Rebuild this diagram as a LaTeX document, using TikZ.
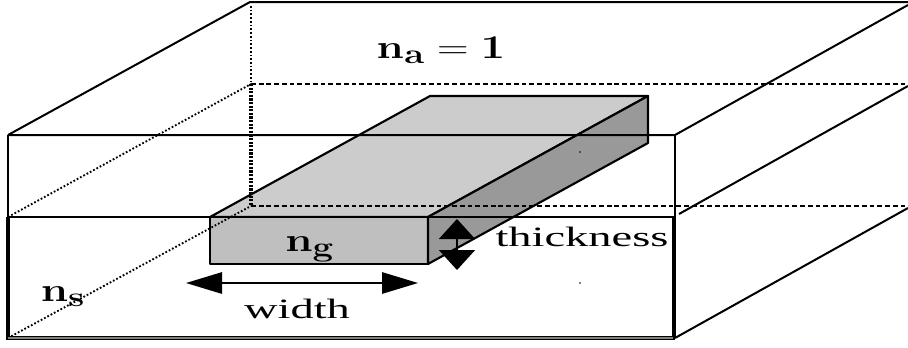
\documentclass[tikz,border=0pt]{standalone}
\usepackage[no-math]{fontspec}
\setmainfont{Liberation Serif}
\usepackage{amsmath}
\usetikzlibrary{arrows.meta}
\definecolor{topgray}{gray}{0.8}
\definecolor{frontgray}{gray}{0.75}
\definecolor{sidegray}{gray}{0.6}
\newcommand{\wordlabel}[1]{\scalebox{1.66}[1]{\fontsize{21}{25}\selectfont #1}}
\newcommand{\indexlabel}[1]{\scalebox{1.32}[1]{\fontsize{28}{33}\selectfont $\mathbf{#1}$}}

\begin{document}
\begin{tikzpicture}[
    x=0.75pt, y=-0.75pt,
    edge/.style={draw=black, line width=1.5pt},
    heavy/.style={draw=black, line width=3pt},
    hidden/.style={draw=black, line width=1.4pt, dash pattern=on 3.6pt off 2.2pt},
    dots/.style={draw=black, line width=1.4pt, dash pattern=on 1.3pt off 1.5pt},
    fatdots/.style={draw=black, line width=2.8pt, dash pattern=on 1.6pt off 1.1pt},
    block/.style={draw=black, line width=1.6pt, line join=round},
    bigarrow/.style={{Triangle[length=27pt,width=16pt]}-{Triangle[length=27pt,width=16pt]}, line width=1.4pt},
    tallarrow/.style={{Triangle[length=15pt,width=27pt]}-{Triangle[length=15pt,width=27pt]}, line width=1.4pt},
    label/.style={inner sep=0pt, text=black}
]
    \useasboundingbox (0, 0) rectangle (908, 347);

    % corners of the substrate and of the cover
    \coordinate (ftl) at (8, 135);
    \coordinate (fml) at (8, 217);
    \coordinate (fbl) at (8, 338);
    \coordinate (ftr) at (675, 135);
    \coordinate (fmr) at (675, 217);
    \coordinate (fbr) at (675, 338);
    \coordinate (btl) at (250, 2);
    \coordinate (btr) at (908, 2);
    \coordinate (btt) at (251, 6);
    \coordinate (bml) at (251, 84);
    \coordinate (bmr) at (908, 84);
    \coordinate (bbl) at (251, 206);
    \coordinate (bbr) at (908, 206);
    \coordinate (etr) at (908, 5);
    \coordinate (ems) at (679, 214);
    \coordinate (emr) at (908, 86);
    \coordinate (ebr) at (908, 208);

    % corners of the guide
    \coordinate (gfl) at (210, 217);
    \coordinate (gfr) at (428, 217);
    \coordinate (gbl) at (210, 264);
    \coordinate (gbr) at (428, 264);
    \coordinate (gtl) at (430, 96);
    \coordinate (gtr) at (648, 96);
    \coordinate (gsr) at (648, 143);

    \draw[block, fill=topgray] (gfl) -- (gtl) -- (gtr) -- (gfr) -- cycle;
    \draw[block, fill=frontgray] (gfl) -- (gfr) -- (gbr) -- (gbl) -- cycle;
    \draw[block, fill=sidegray] (gfr) -- (gtr) -- (gsr) -- (gbr) -- cycle;

    % hidden edges
    \draw[dots] (btt) -- (bml);
    \draw[fatdots] (bml) -- (bbl);
    \draw[dots] (fml) -- (bml);
    \draw[dots] (fbl) -- (bbl);
    \draw[hidden] (bml) -- (bmr);
    \draw[hidden] (bbl) -- (bbr);

    % visible edges
    \draw[edge] (ftl) -- (btl) -- (btr);
    \draw[edge] (ftl) -- (ftr) -- (etr);
    \draw[edge, line width=2.2pt] (ftl) -- (fml);
    \draw[edge] (ftr) -- (fmr);
    \draw[edge] (fml) -- (fmr);
    \draw[edge] (ems) -- (emr);
    \draw[edge] (fbr) -- (ebr);
    \draw[heavy] (fml) -- (fbl);
    \draw[heavy] ([xshift=-0.8pt]fmr) -- ([xshift=-0.8pt]fbr);
    \draw[heavy] ([xshift=-1.3pt]fbl) -- (fbr);
    \draw[draw=gray, line width=1pt] (fbl) -- ([xshift=-1.6pt]fbr);

    % dimension arrows
    \coordinate (wl) at (186, 283);
    \coordinate (wr) at (418, 283);
    \coordinate (tt) at (457, 219);
    \coordinate (tb) at (457, 270);
    \draw[bigarrow] (wl) -- (wr);
    \draw[tallarrow] (tt) -- (tb);

    \node[label] (nair) at (441, 50) {\indexlabel{n_a = 1}};
    \node[label] (nguide) at (310, 249) {\indexlabel{n_g}};
    \node[label] (nsub) at (63, 297) {\indexlabel{n_s}};
    \node[label] (lwidth) at (297, 309) {\wordlabel{width}};
    \node[label] (lthick) at (582, 237) {\wordlabel{thickness}};

    % two specks
    \fill[black] (580, 152) circle (0.6pt);
    \fill[black] (580, 283) circle (0.6pt);
\end{tikzpicture}
\end{document}
